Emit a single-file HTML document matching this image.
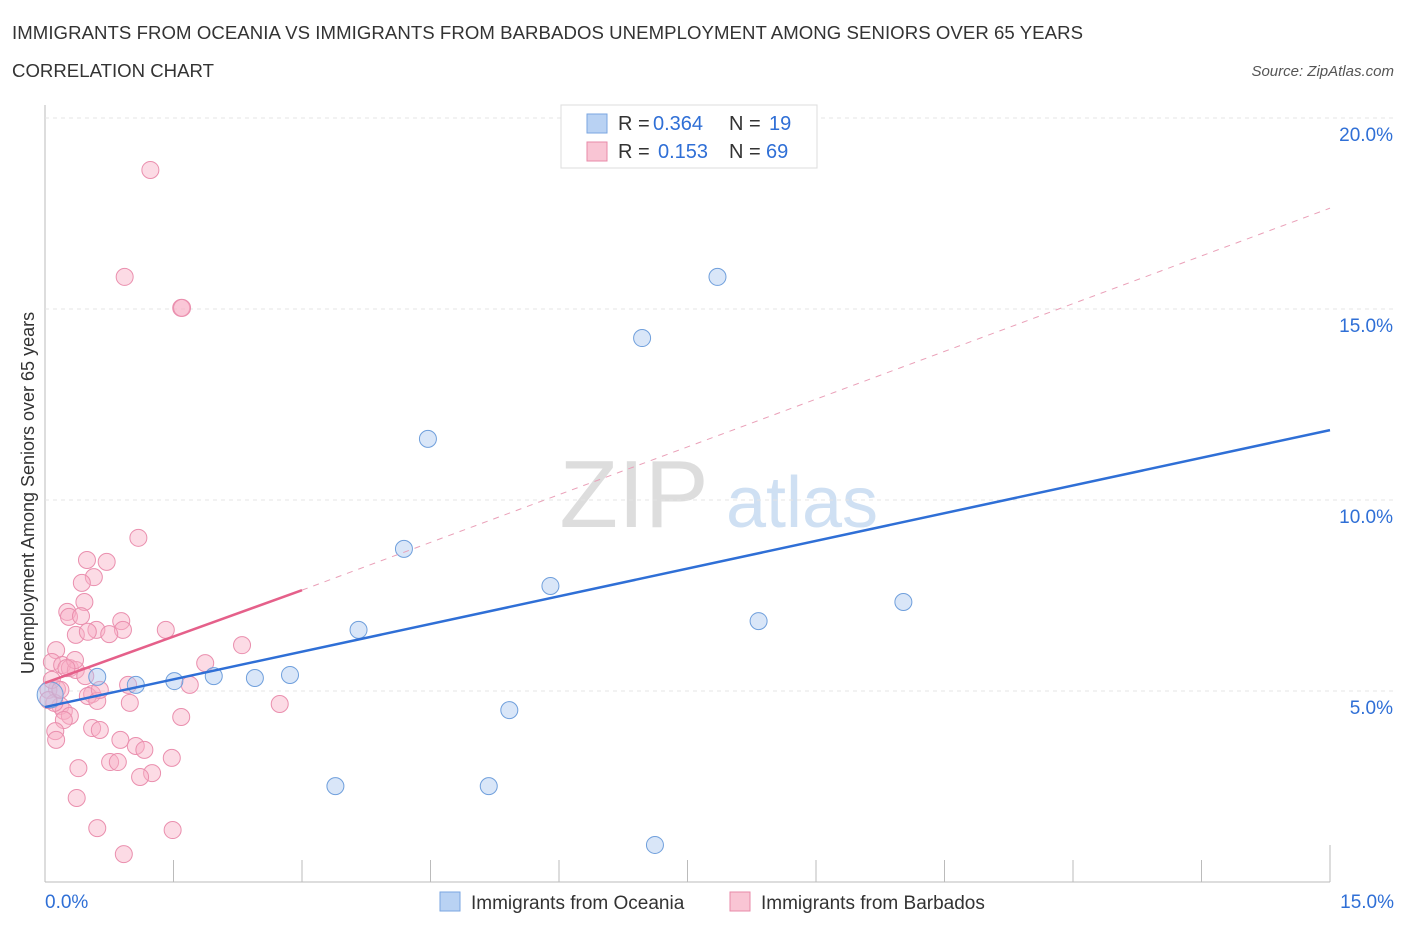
<!DOCTYPE html>
<html><head><meta charset="utf-8"><style>
body{margin:0;background:#fff;font-family:"Liberation Sans",sans-serif;}
svg text{font-family:"Liberation Sans",sans-serif;}
</style></head><body>
<svg id="c" width="1406" height="930">
<text x="12" y="39" font-size="18.6" fill="#333" textLength="1071">IMMIGRANTS FROM OCEANIA VS IMMIGRANTS FROM BARBADOS UNEMPLOYMENT AMONG SENIORS OVER 65 YEARS</text>
<text x="12" y="77" font-size="18.6" fill="#333" textLength="202">CORRELATION CHART</text>
<text x="1394" y="76" font-size="15" fill="#555" font-style="italic" text-anchor="end">Source: ZipAtlas.com</text>
<text x="634" y="527" font-size="96" fill="#ddd" font-family="Liberation Serif" text-anchor="middle">ZIP</text>
<text x="802" y="527" font-size="72" fill="#cfe0f3" text-anchor="middle">atlas</text>
<text transform="translate(34,493) rotate(-90)" font-size="18" fill="#333" text-anchor="middle">Unemployment Among Seniors over 65 years</text>
<g id="grid"></g><g id="marks"></g>
<g>
<rect x="561" y="105" width="256" height="63" fill="#fff" stroke="#ddd"/>
<rect x="587" y="114" width="20" height="19" fill="#b9d2f3" stroke="#7aa6e0"/>
<rect x="587" y="142" width="20" height="19" fill="#f9c5d4" stroke="#e88aa8"/>
<text y="130" font-size="20" fill="#333"><tspan x="618">R =</tspan><tspan x="653" fill="#2f6fd6">0.364</tspan><tspan x="729">N =</tspan><tspan x="769" fill="#2f6fd6">19</tspan></text>
<text y="158" font-size="20" fill="#333"><tspan x="618">R =</tspan><tspan x="658" fill="#2f6fd6">0.153</tspan><tspan x="729">N =</tspan><tspan x="766" fill="#2f6fd6">69</tspan></text>
</g>
<g>
<rect x="440" y="892" width="20" height="19" fill="#b9d2f3" stroke="#7aa6e0"/>
<text x="471" y="909" font-size="19" fill="#333">Immigrants from Oceania</text>
<rect x="730" y="892" width="20" height="19" fill="#f9c5d4" stroke="#e88aa8"/>
<text x="761" y="909" font-size="19" fill="#333">Immigrants from Barbados</text>
</g>
</svg>
<script>
const yTicks=[5,10,15,20];
const yTickLabels=["5.0%","10.0%","15.0%","20.0%"];
const xTickLabels=["0.0%","15.0%"];
const oceaniaX=[0.06,0.61,1.06,1.51,1.97,2.45,2.86,3.39,3.66,4.19,4.47,5.18,5.42,5.90,6.97,7.12,7.85,8.33,10.02];
const oceaniaY=[4.9,5.37,5.16,5.26,5.39,5.34,5.42,2.51,6.6,8.72,11.6,2.51,4.5,7.75,14.24,0.97,15.84,6.83,7.33];
const barbadosX=[1.23,0.93,1.59,1.60,1.09,0.49,0.72,0.57,0.43,0.46,0.26,0.28,0.42,0.89,0.91,0.60,0.36,0.75,0.50,1.41,2.30,0.13,0.08,0.20,0.29,0.36,1.87,0.47,0.14,0.04,0.97,1.69,0.55,0.50,0.99,0.61,0.18,0.22,2.74,0.11,0.29,1.59,0.22,0.12,0.55,0.64,0.88,1.06,1.16,1.48,0.76,0.85,0.39,1.25,1.11,0.37,0.61,1.49,0.92,0.04,0.08,0.18,0.35,0.25,0.64,0.13];
const barbadosY=[18.64,15.84,15.03,15.03,9.01,8.43,8.38,7.98,7.83,7.33,7.07,6.94,6.96,6.83,6.60,6.60,6.47,6.49,6.55,6.60,6.20,6.07,5.76,5.68,5.60,5.55,5.73,5.39,5.05,5.03,5.16,5.16,4.92,4.87,4.69,4.74,4.61,4.48,4.66,4.69,4.35,4.32,4.24,3.95,4.03,3.98,3.72,3.56,3.46,3.25,3.14,3.14,2.98,2.85,2.75,2.20,1.41,1.36,0.73,4.76,5.29,5.03,5.81,5.60,5.03,3.72];
const oceaniaTrend=[[0,4.58],[15,11.83]];
const barbadosTrend=[[0,5.21],[3,7.64]];
const barbadosDash=[[3,7.64],[15,17.64]];
const NS="http://www.w3.org/2000/svg";
const sx=v=>45+v/15*1285, sy=v=>882-v/5*191;
function mk(t,a,p){const e=document.createElementNS(NS,t);for(const k in a)e.setAttribute(k,a[k]);p.appendChild(e);return e;}
const g=document.getElementById('grid'),m=document.getElementById('marks');
let ax=mk('line',{x1:45,y1:105,x2:45,y2:882,stroke:'#bbb'},g);


let bx=mk('line',{x1:45,y1:882,x2:1330,y2:882,stroke:'#bbb'},g);


for(let i=1;i<=10;i++){const x=45+i*128.5;const t=mk('line',{x1:x,y1:882,x2:x,y2:i==10?845:860,stroke:'#bbb'},g);

}
yTicks.forEach((v,i)=>{const l=mk('line',{x1:45,y1:sy(v),x2:1395,y2:sy(v),stroke:'#e4e4e4','stroke-dasharray':'4,4'},g);


const t=mk('text',{x:1393,y:sy(v)+23,'font-size':19,fill:'#2f6fd6','text-anchor':'end'},g);t.textContent=yTickLabels[i];

});
[[0,45,'start'],[15,1394,'end']].forEach((d,i)=>{const t=mk('text',{x:d[1],y:908,'font-size':19,fill:'#2f6fd6','text-anchor':d[2]},g);t.textContent=xTickLabels[i];

});
barbadosX.forEach((x,i)=>{const c=mk('circle',{cx:sx(x),cy:sy(barbadosY[i]),r:8.5,fill:'rgba(248,175,198,0.45)',stroke:'#ea8fae','stroke-width':1},m);

});
oceaniaX.forEach((x,i)=>{const c=mk('circle',{cx:sx(x),cy:sy(oceaniaY[i]),r:i==0?13:8.5,fill:'rgba(170,200,240,0.45)',stroke:'#6f9fdc','stroke-width':1},m);

});
let d=mk('line',{x1:sx(barbadosDash[0][0]),y1:sy(barbadosDash[0][1]),x2:sx(barbadosDash[1][0]),y2:sy(barbadosDash[1][1]),stroke:'#eaa0b8','stroke-dasharray':'6,6'},m);


let b=mk('line',{x1:sx(barbadosTrend[0][0]),y1:sy(barbadosTrend[0][1]),x2:sx(barbadosTrend[1][0]),y2:sy(barbadosTrend[1][1]),stroke:'#e5608a','stroke-width':2.5},m);


let o=mk('line',{x1:sx(oceaniaTrend[0][0]),y1:sy(oceaniaTrend[0][1]),x2:sx(oceaniaTrend[1][0]),y2:sy(oceaniaTrend[1][1]),stroke:'#2f6fd6','stroke-width':2.5},m);


</script>
</body></html>
